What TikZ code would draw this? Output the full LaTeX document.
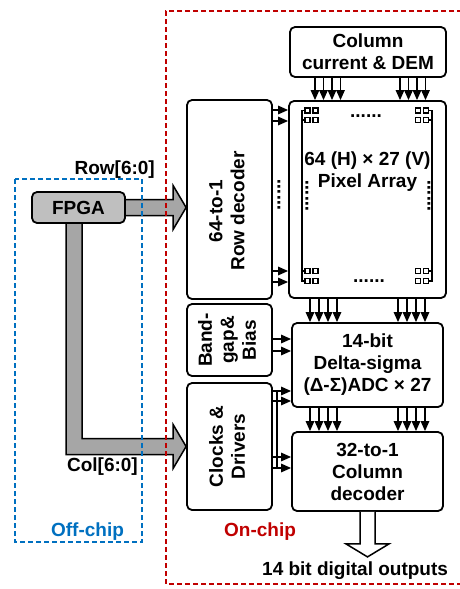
\documentclass[tikz,border=0pt]{standalone}
\usepackage{fontspec}
\usepackage{graphicx}
\setmainfont{Liberation Sans}
\usetikzlibrary{arrows.meta, calc, backgrounds}
\definecolor{chipRed}{HTML}{C00000}
\definecolor{chipBlue}{HTML}{0070C0}
\definecolor{busGray}{HTML}{A6A6A6}
\definecolor{fpgaGray}{HTML}{BFBFBF}
\newcommand{\vtext}[1]{\rotatebox{90}{\begin{tabular}{@{}c@{}}#1\end{tabular}}}

\begin{document}
\begin{tikzpicture}[x=1pt, y=-1pt,
  font=\fontsize{19}{22}\selectfont\bfseries,
  blk/.style={draw, line width=1.8pt, rounded corners=5pt, align=center, inner sep=0pt},
  txt/.style={align=center, inner sep=0pt},
  dots/.style={inner sep=0pt},
  cell/.style={draw, line width=1.5pt, minimum size=5pt, inner sep=0pt},
  a/.style={-{Triangle[length=10pt,width=8.5pt]}, line width=1.4pt},
  wire/.style={line width=1.4pt},
  bus/.style={draw, line width=1.5pt, fill=busGray, line join=miter},
  outbus/.style={draw, line width=1.5pt, fill=white, line join=miter},
  region/.style={line width=2pt, dash pattern=on 5pt off 3pt}
]
\useasboundingbox (0,0) rectangle (460,589);

\node[blk, minimum width=156pt, minimum height=50pt] (dem) at (368,52) {Column\\current \& DEM};
\node[blk, minimum width=157pt, minimum height=197pt] (pix) at (367.5,199.5) {};
\node[txt] (pixtxt) at (367.5,172) {64 (H) × 27 (V)\\Pixel Array};
\node[blk, minimum width=85pt, minimum height=199pt] (rowdec) at (229.5,199.5) {};
\node[txt] (rowtxt) at (229,211) {\vtext{64-to-1\\Row decoder}};
\node[blk, minimum width=85pt, minimum height=72pt] (bias) at (229.5,340) {\vtext{Band-\\gap\&\\Bias}};
\node[blk, minimum width=85pt, minimum height=127pt] (clk) at (229.5,446.5) {\vtext{Clocks \&\\Drivers}};
\node[blk, minimum width=151pt, minimum height=84pt] (adc) at (367.5,365) {14-bit\\Delta-sigma\\(Δ-Σ)ADC × 27};
\node[blk, minimum width=151pt, minimum height=79pt] (coldec) at (367.5,471.5) {32-to-1\\Column\\decoder};
\node[blk, fill=fpgaGray, minimum width=93pt, minimum height=31pt] (fpga) at (78.5,207.5) {FPGA};

\foreach \cx [count=\i] in {307.5,315.5,418,426}
  \foreach \cy [count=\j] in {110.5,120,271,281}
    \node[cell] (cell\i\j) at (\cx,\cy) {};
\draw[wire] (305,110.5) -| (302,281) -- (305,281);
\draw[wire] (428.5,110.5) -| (432,281) -- (428.5,281);
\foreach \cy in {120,271} {
  \draw[wire] (302,\cy) -- (305,\cy);
  \draw[wire] (432,\cy) -- (428.5,\cy);
}
\node[dots] (dtop) at (366,116) {......};
\node[dots] (dbot) at (369,281) {......};
\node[dots, rotate=90] (dleft) at (307,196) {......};
\node[dots, rotate=90] (dright) at (429,196) {......};
\node[dots, rotate=90] (drow) at (279,195) {......};

\foreach \x in {315,323.5,332,340.5,400,408.5,417,425.5}
  \draw[a] (\x,0 |- dem.south) -- (\x,0 |- pix.north);
\foreach \x in {310,319,328,337,398,407,416,425} {
  \draw[a] (\x,0 |- pix.south) -- (\x,0 |- adc.north);
  \draw[a] (\x,0 |- adc.south) -- (\x,0 |- coldec.north);
}
\foreach \y in {110,121,271,282}
  \draw[a] (rowdec.east |- 0,\y) -- (pix.west |- 0,\y);
\foreach \y in {339,351}
  \draw[a] (bias.east |- 0,\y) -- (adc.west |- 0,\y);
\foreach \y in {391,401}
  \draw[a] (clk.east |- 0,\y) -- (adc.west |- 0,\y);
\foreach \y in {457,468}
  \draw[a] (clk.east |- 0,\y) -- (coldec.west |- 0,\y);
\draw[wire] ($(clk.east |- 0,391)+(4,0)$) -- ($(clk.east |- 0,468)+(4,0)$);

\begin{scope}[on background layer]
\draw[bus] ($(fpga.east)+(0,-8)$) -- ($(rowdec.west |- fpga.east)+(-13,-8)$) -- ++(0,-14)
  -- (rowdec.west |- fpga.east) -- ++(-13,22) -- ++(0,-14) -- ($(fpga.east)+(0,8)$);
\draw[bus] ($(fpga.south)+(-12.5,0)$) |- ($(clk.west)+(-13,8)$) -- ++(0,14) -- (clk.west)
  -- ++(-13,-22) -- ++(0,14) -| ($(fpga.south)+(3.5,0)$);
\end{scope}
\draw[outbus] ($(coldec.south)+(-7.5,0)$) -- ++(0,32) -- ++(-14,0) -- ++(21.5,13)
  -- ++(21.5,-13) -- ++(-14,0) -- ++(0,-32);

\node[anchor=base east, inner sep=0pt] (rowlbl) at (155,174.5) {Row[6:0]};
\node[anchor=base east, inner sep=0pt] (collbl) at (138,471) {Col[6:0]};
\node[anchor=base, inner sep=0pt, text=chipBlue] (offlbl) at (87.5,536) {Off-chip};
\node[anchor=base, inner sep=0pt, text=chipRed] (onlbl) at (260,536) {On-chip};
\node[anchor=base west, inner sep=0pt] (outlbl) at (262,575) {14 bit digital outputs};

\draw[region, chipRed] (470,11) -- (166,11) -- (166,584) -- (470,584);
\draw[region, chipBlue] (15,179) rectangle (142,542);
\end{tikzpicture}
\end{document}
